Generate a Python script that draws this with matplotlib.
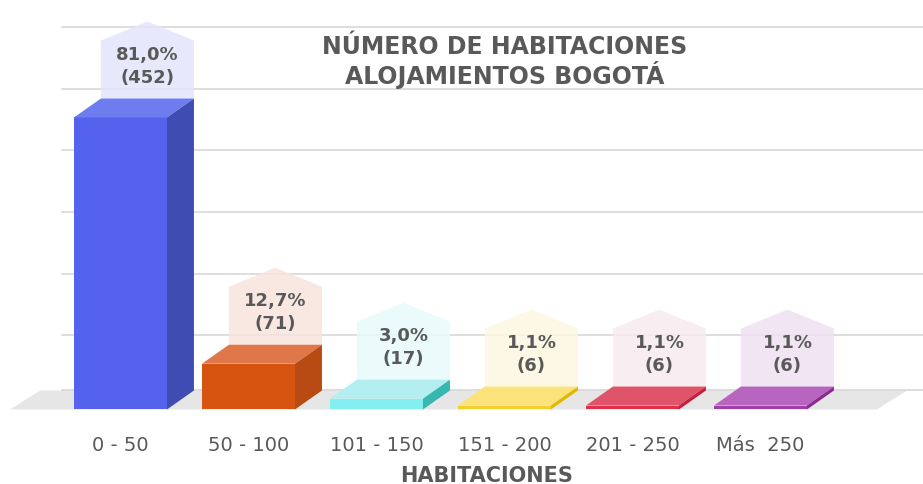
import numpy as np
import matplotlib
matplotlib.use("Agg")
import matplotlib.pyplot as plt
from matplotlib.patches import Polygon, Rectangle

# data
categorias = ["0 - 50", "50 - 100", "101 - 150", "151 - 200", "201 - 250", "Más  250"]
porcentajes = [81.0, 12.7, 3.0, 1.1, 1.1, 1.1]
conteos = [452, 71, 17, 6, 6, 6]
gridlines = [0, 15.4, 32.3, 49.5, 66.7, 83.6, 100.8]

# colors: front, top, side, label box
c_front = ["#5462ed", "#d65410", "#82f0f0", "#f2d033", "#e0304a", "#a040a8"]
c_top = ["#6d7df0", "#e0774a", "#b3eff0", "#fbe27a", "#df5468", "#b865c0"]
c_side = ["#3f4db3", "#b84a14", "#36b8b0", "#e2b800", "#c81e3a", "#8a2a94"]
c_box = ["#e3e5fb", "#f9e4dc", "#e8fafb", "#fcf7e1", "#f7ecef", "#efe0f1"]
gris = "#595959"

fig = plt.figure(figsize=(9.23, 4.85), dpi=100)
ax = fig.add_axes([0, 0, 1, 1])
ax.set_xlim(-0.941, 6.270)
ax.set_ylim(-20.67, 113.87)
ax.axis("off")

px_x = 1 / 128.0      # category units per pixel
px_y = 1 / 3.605      # percent per pixel
w = 46.5 * px_x       # half bar width
dx = 27 * px_x        # depth offset
dy = 19 * px_y

# back wall gridlines
for g in gridlines:
    ax.plot([-0.457, 6.27], [g + dy, g + dy], color="#d4d4d4", lw=1.1, zorder=1)

# floor
floor = Polygon([(-0.862, 0), (5.91, 0), (5.91 + 0.235, dy), (-0.862 + 0.235, dy)],
                closed=True, fc="#e6e6e6", ec="none", zorder=0.5)
ax.add_patch(floor)

x = np.arange(len(categorias))
for i, v in enumerate(porcentajes):
    # front
    ax.add_patch(Rectangle((x[i] - w, 0), 2 * w, v, fc=c_front[i], ec="none", zorder=3))
    # top
    ax.add_patch(Polygon([(x[i] - w, v), (x[i] + w, v), (x[i] + w + dx, v + dy), (x[i] - w + dx, v + dy)],
                         closed=True, fc=c_top[i], ec="none", zorder=3))
    # side
    ax.add_patch(Polygon([(x[i] + w, 0), (x[i] + w + dx, dy), (x[i] + w + dx, v + dy), (x[i] + w, v)],
                         closed=True, fc=c_side[i], ec="none", zorder=3))
    # label box (house shape)
    b0 = v + dy
    b1 = b0 + 58 * px_y
    b2 = b1 + 19 * px_y
    xl, xr = x[i] - w + dx, x[i] + w + dx
    ax.add_patch(Polygon([(xl, b0), (xr, b0), (xr, b1), (x[i] + dx, b2), (xl, b1)],
                         closed=True, fc=c_box[i], ec="none", alpha=0.85, zorder=2))
    ax.text(x[i] + dx, b0 + 33 * px_y, "{:.1f}%".format(v).replace(".", ",") + "\n(" + str(conteos[i]) + ")",
            ha="center", va="center", fontsize=13, color=gris, fontweight="semibold",
            linespacing=1.35, zorder=4)
    # category label
    ax.text(x[i], -9.6, categorias[i], ha="center", va="center", fontsize=14,
            color=gris, zorder=4)

ax.text(2.863, -19.9, "HABITACIONES", ha="center", va="baseline", fontsize=15,
        fontweight="bold", color=gris)

fig.text(505 / 923, 1 - 62 / 485, "NÚMERO DE HABITACIONES\nALOJAMIENTOS BOGOTÁ",
         ha="center", va="center", fontsize=17, fontweight="semibold", color=gris,
         linespacing=1.05)

fig.savefig("out.png", dpi=100)
